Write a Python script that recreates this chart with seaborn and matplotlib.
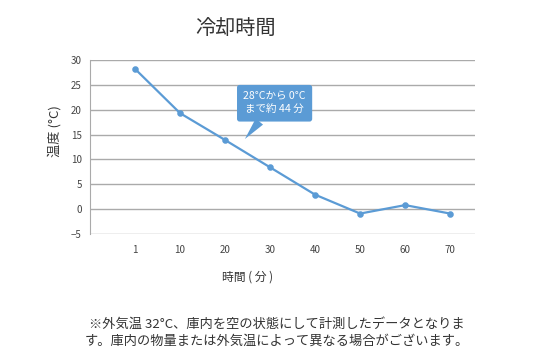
import matplotlib
matplotlib.use('Agg')
from matplotlib import pyplot as plt
import numpy as np
import pandas as pd
import seaborn as sns

# data
minutes = ['1', '10', '20', '30', '40', '50', '60', '70']
temps = [28.2, 19.3, 13.9, 8.4, 2.9, -0.9, 0.8, -0.9]
y_ticks = [-5, 0, 5, 10, 15, 20, 25, 30]

title = '冷却時間'
x_label = '時間 ( 分 )'
y_label = '温度 (°C)'
callout = '28°Cから 0°C\nまで約 44 分'
note = ('※外気温 32°C、庫内を空の状態にして計測したデータとなりま\n'
        'す。庫内の物量または外気温によって異なる場合がございます。')

sns.set_style('white')
plt.rcParams['font.family'] = ['Noto Sans CJK JP', 'DejaVu Sans']

blue = '#5b9bd5'
grey = '#aaaaaa'
text_col = '#333333'

df = pd.DataFrame({'minutes': minutes, 'temp': temps})

fig = plt.figure(figsize=(5.36, 3.55), dpi=100)
ax = fig.add_axes([0.168, 0.341, 0.718, 0.490])

sns.pointplot(data=df, x='minutes', y='temp', color=blue, ax=ax,
              markersize=3.5, linewidth=1.6, errorbar=None)

ax.set_xlim(-1, 7.55)
ax.set_ylim(-5, 30)
ax.set_yticks(y_ticks)
ax.yaxis.grid(True, color=grey, linewidth=1)
ax.xaxis.grid(False)
for s in ['top', 'right', 'bottom']:
    ax.spines[s].set_visible(False)
ax.spines['left'].set_color(grey)
ax.tick_params(axis='both', length=0, labelsize=7, colors='#444444', pad=6)
ax.tick_params(axis='x', pad=8)

ax.set_xlabel(x_label, fontsize=8.5, color=text_col)
ax.xaxis.set_label_coords(0.41, -0.21)
ax.set_ylabel(y_label, fontsize=9.5, color=text_col)
ax.yaxis.set_label_coords(-0.075, 0.59)

fig.text(0.44, 0.92, title, ha='center', va='center', fontsize=14.5,
         color=text_col)

ax.annotate(callout, xy=(2.44, 14.1), xytext=(3.1, 21.3),
            ha='center', va='center', fontsize=7.6, color='white',
            linespacing=1.5,
            bbox=dict(boxstyle='round,pad=0.6,rounding_size=0.25',
                      fc=blue, ec='none'),
            arrowprops=dict(arrowstyle='wedge,tail_width=0.9,shrink_factor=0.5',
                            fc=blue, ec='none', shrinkA=0, shrinkB=0))

fig.text(0.517, 0.02, note, ha='center', va='bottom', fontsize=9.5,
         color=text_col, linespacing=1.45)

fig.savefig('out.png', dpi=100, facecolor='white')
